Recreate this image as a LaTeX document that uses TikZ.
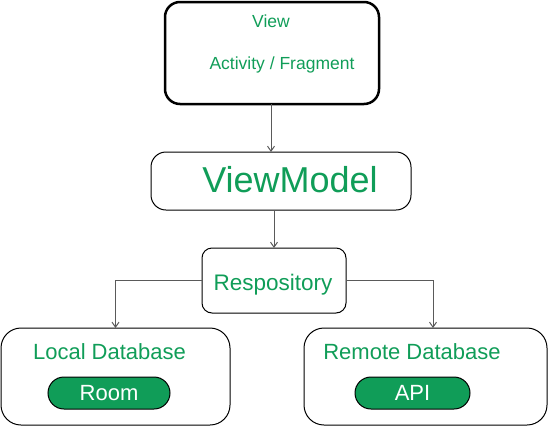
\documentclass[tikz,border=0pt]{standalone}
\usepackage{fontspec}
\setmainfont{Liberation Sans}
\usepackage{xcolor}
\usetikzlibrary{positioning,arrows.meta}
\definecolor{mvvmgreen}{RGB}{16,157,88}
\definecolor{linkgray}{RGB}{90,90,90}
\tikzset{
    mvvmlayer/.style={draw, rounded corners=15pt, line width=1pt, inner sep=0pt, outer sep=0pt},
    mvvmview/.style={mvvmlayer, line width=2.5pt},
    mvvmsource/.style={mvvmlayer, rounded corners=20pt},
    mvvmpill/.style={draw=black, line width=1pt, fill=mvvmgreen, rounded corners=16pt, inner sep=0pt, outer sep=0pt, text=white, font=\fontsize{22}{24}\selectfont},
    mvvmlabel/.style={text=mvvmgreen, inner sep=0pt, anchor=base},
    mvvmarrow/.style={draw=linkgray, line width=1pt, -{Straight Barb[length=5pt, width=7pt]}}
}
\begin{document}
\begin{tikzpicture}[x=1pt, y=-1pt]
    \useasboundingbox (0,0) rectangle (548,426);
    % layers
    \node[mvvmview, minimum width=214pt, minimum height=102pt] (view) at (272,53) {};
    \node[mvvmlayer, minimum width=260pt, minimum height=58pt] (vm) at (281,181) {};
    \node[mvvmlayer, rounded corners=10pt, minimum width=144pt, minimum height=65pt] (repo) at (274,280.5) {};
    \node[mvvmsource, minimum width=229pt, minimum height=97pt] (local) at (115.5,376.5) {};
    \node[mvvmsource, minimum width=243pt, minimum height=97pt] (remote) at (425.5,376.5) {};

    % texts
    \node[mvvmlabel, font=\fontsize{17.5}{20}\selectfont] (viewlbl) at (271,27) {View};
    \node[mvvmlabel, font=\fontsize{17.5}{20}\selectfont] (actlbl) at (282,69.5) {Activity / Fragment};
    \node[mvvmlabel, font=\fontsize{36}{40}\selectfont] (vmlbl) at (290,192.5) {ViewModel};
    \node[mvvmlabel, font=\fontsize{22.5}{26}\selectfont] (repolbl) at (273,290.5) {Respository};
    \node[mvvmlabel, font=\fontsize{22}{26}\selectfont] (locallbl) at (109.5,359) {Local Database};
    \node[mvvmlabel, font=\fontsize{22}{26}\selectfont] (remotelbl) at (412,359) {Remote Database};

    \node[mvvmpill, minimum width=122pt, minimum height=32pt] (room) at (109,393) {Room};
    \node[mvvmpill, minimum width=115pt, minimum height=32pt] (api) at (412.5,393) {API};

    % links
    \draw[mvvmarrow] ([xshift=-1pt]view.south) -- ([xshift=-10pt]vm.north);
    \draw[mvvmarrow] (vm.south -| repo.north) -- (repo.north);
    \draw[mvvmarrow] (repo.west) -| (local.north);
    \draw[mvvmarrow] (repo.east) -| ([xshift=7.5pt]remote.north);
\end{tikzpicture}
\end{document}
